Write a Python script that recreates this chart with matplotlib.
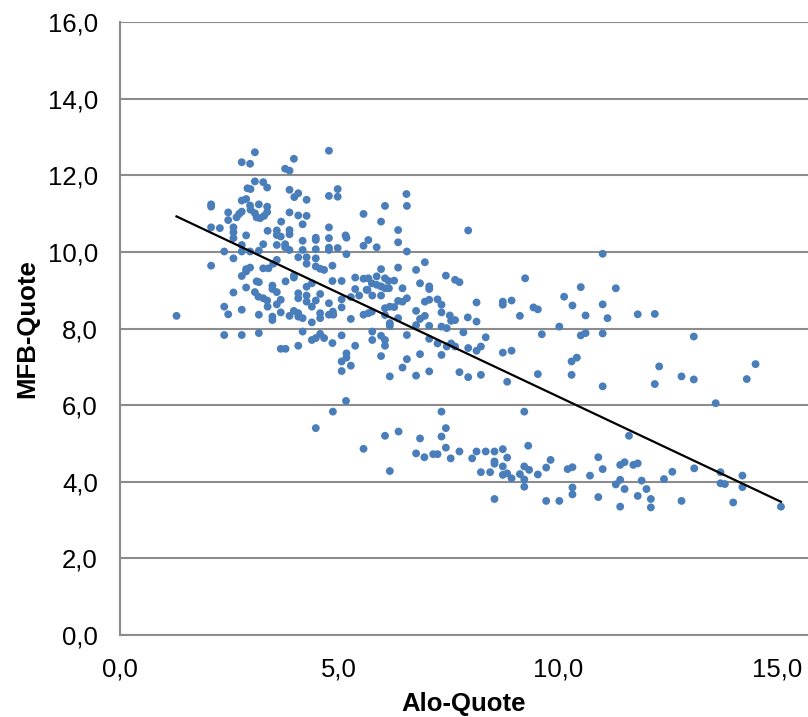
import numpy as np
import matplotlib.pyplot as plt
from matplotlib.ticker import FuncFormatter

# Alo-Quote / MFB-Quote Wertepaare
alo = [
    3.08, 2.78, 2.97, 3.97, 4.77, 3.77, 3.87, 3.08, 3.27, 2.91, 2.98, 3.36, 3.87, 4.07, 3.98,
    4.26, 4.77, 4.97, 4.97, 2.78, 2.88, 3.17, 2.08, 2.08, 2.97, 2.98, 3.36, 3.36, 2.78, 2.72,
    2.66, 2.47, 2.47, 3.08, 3.12, 3.20, 3.29, 3.87, 4.07, 4.26, 5.56, 3.68, 4.17, 2.08, 2.28,
    2.59, 2.59, 2.59, 2.88, 3.37, 3.58, 3.58, 3.67, 3.87, 3.87, 4.77, 4.47, 4.47, 4.77, 5.15,
    5.17, 4.17, 5.67, 5.56, 2.78, 2.78, 2.97, 3.17, 2.38, 3.27, 3.58, 3.77, 3.77, 3.87, 4.17,
    4.47, 4.77, 4.77, 4.97, 5.17, 2.59, 4.07, 4.26, 4.47, 4.26, 4.47, 4.57, 4.66, 3.58, 3.50,
    3.39, 2.08, 2.97, 2.88, 3.27, 4.85,
    # Block 2
    2.78, 2.88, 3.97, 3.97, 4.85, 5.06, 5.37, 5.56, 5.67, 3.12, 3.17, 3.78, 3.48, 3.48, 3.58,
    2.88, 2.59, 3.08, 3.16, 3.27, 3.36, 3.37, 3.67, 3.58, 4.07, 4.07, 4.26, 4.26, 4.26, 4.38,
    4.57, 4.47, 4.38, 4.77, 5.06, 5.06, 5.37, 5.46, 5.27, 5.63, 2.38, 2.47, 2.78, 3.17, 3.48,
    3.48, 3.67, 3.87, 3.97, 4.07, 4.07, 4.17, 4.38, 4.57, 4.57, 4.77, 4.86, 4.87, 5.27, 5.56,
    5.67, 1.29, 2.38, 2.78, 3.17, 4.17, 4.38, 4.47, 4.57, 4.66, 5.06, 4.85, 5.37, 4.07, 3.67,
    3.78, 5.17, 5.17, 5.06, 5.27, 5.06,
    # Block 3
    5.16, 4.86, 4.47, 5.56,
    # Block 4
    6.54, 6.55, 6.05, 5.96, 6.35, 6.35, 6.55, 5.86, 7.95, 6.96, 6.76, 6.35, 5.96,
    # Block 5
    5.86, 6.05, 6.13, 6.26, 5.75, 5.86, 5.96, 6.05, 6.14, 5.65, 5.76, 5.96, 6.45, 6.85, 7.06,
    7.06, 7.44, 7.65, 7.75, 9.25, 10.14, 10.33, 6.35, 6.45, 6.55, 6.96, 7.06, 7.25, 7.34, 6.05,
    6.26, 6.16, 5.75, 6.05, 6.35, 6.76, 6.85, 6.96, 7.34, 7.53, 7.65, 7.56, 7.94, 8.14, 8.14,
    8.74, 8.74, 8.94, 9.13, 9.44, 9.54, 6.16, 6.16, 6.76, 7.06, 7.34, 7.46, 10.03, 5.76, 5.76,
    5.96, 6.05, 6.05, 6.55, 7.06, 7.25, 7.46, 7.56, 7.65, 7.84, 8.35, 8.24, 8.14, 7.95, 9.63,
    8.74, 8.94, 5.96, 6.85, 7.34, 6.55, 6.45, 6.16, 6.76, 7.06, 7.75, 7.95, 8.24, 8.84, 9.54,
    10.31, 10.31,
    # Block 6
    7.34, 9.23, 7.44, 7.34, 6.05, 6.36, 6.85, 6.76, 6.95, 7.15, 7.25, 7.44, 7.55, 7.75, 8.04,
    8.14, 8.35, 8.55, 8.74, 9.32, 8.84, 8.55, 8.55, 8.74, 6.16, 8.24, 8.45, 8.74, 8.84, 8.94,
    9.13, 9.23, 9.34, 9.23, 9.23, 9.54, 9.73, 9.83, 10.22, 10.33, 10.33, 10.33, 8.55, 9.73, 10.03,
    # Block 7
    11.02, 10.52, 11.32, 11.02, 10.63, 11.13, 11.82, 12.21, 10.52, 10.63, 11.02, 13.10, 10.43,
    12.31, 12.82, 13.10, 14.51, 14.31, 11.02, 12.21,
    # Block 8
    13.60, 11.62, 10.92, 11.02, 11.42, 11.52, 11.72, 11.82, 10.73, 11.42, 11.32, 11.52, 11.91,
    12.02, 12.42, 12.61, 13.11, 13.71, 13.71, 13.81, 14.21, 14.21, 10.92, 11.82, 12.12, 12.12,
    11.42, 12.82, 14.00, 15.09,
]
mfb = [
    12.60, 12.34, 12.30, 12.43, 12.64, 12.17, 12.12, 11.84, 11.82, 11.66, 11.64, 11.68, 11.62, 11.53, 11.43,
    11.36, 11.46, 11.64, 11.44, 11.34, 11.38, 11.24, 11.24, 11.18, 11.21, 11.10, 11.18, 11.04, 11.05, 10.99,
    10.90, 11.03, 10.83, 11.01, 10.90, 10.88, 10.94, 11.03, 10.95, 10.94, 10.99, 10.79, 10.72, 10.64, 10.62,
    10.64, 10.51, 10.36, 10.43, 10.55, 10.56, 10.44, 10.40, 10.57, 10.46, 10.64, 10.37, 10.31, 10.36, 10.43,
    10.37, 10.29, 10.31, 10.16, 10.18, 10.01, 10.01, 10.03, 10.01, 10.20, 10.18, 10.20, 10.12, 10.05, 10.05,
    10.07, 10.11, 10.05, 10.10, 9.94, 9.83, 9.86, 9.86, 9.83, 9.69, 9.62, 9.56, 9.53, 9.79, 9.69,
    9.57, 9.64, 9.59, 9.55, 9.57, 9.64,
    # Block 2
    9.37, 9.49, 9.33, 9.38, 9.24, 9.24, 9.33, 9.30, 9.31, 9.23, 9.21, 9.23, 9.12, 9.03, 8.95,
    9.07, 8.94, 8.95, 8.83, 8.79, 8.73, 8.57, 8.75, 8.63, 8.92, 8.79, 8.86, 8.70, 9.09, 9.18,
    8.90, 8.73, 8.57, 8.66, 8.76, 8.55, 9.03, 8.86, 8.82, 9.01, 8.57, 8.37, 8.49, 8.36, 8.31,
    8.22, 8.42, 8.33, 8.46, 8.40, 8.31, 8.27, 8.16, 8.40, 8.27, 8.36, 8.44, 8.36, 8.25, 8.36,
    8.40, 8.33, 7.83, 7.83, 7.88, 7.92, 7.70, 7.75, 7.86, 7.75, 7.82, 7.62, 7.55, 7.55, 7.47,
    7.47, 7.35, 7.24, 7.14, 7.03, 6.89,
    # Block 3
    6.11, 5.83, 5.40, 4.86,
    # Block 4
    11.51, 11.20, 11.20, 10.79, 10.57, 10.25, 10.01, 10.12, 10.56, 9.73, 9.53, 9.59, 9.55,
    # Block 5
    9.36, 9.31, 9.24, 9.25, 9.18, 9.14, 9.10, 9.05, 9.05, 9.01, 8.86, 8.86, 9.05, 9.18, 9.10,
    9.03, 9.38, 9.27, 9.21, 9.31, 8.83, 8.60, 8.72, 8.70, 8.79, 8.70, 8.75, 8.76, 8.62, 8.53,
    8.56, 8.57, 8.44, 8.35, 8.27, 8.46, 8.25, 8.33, 8.42, 8.34, 8.22, 8.20, 8.29, 8.68, 8.18,
    8.70, 8.62, 8.73, 8.33, 8.55, 8.50, 8.14, 8.07, 8.09, 8.07, 8.05, 8.01, 8.05, 7.92, 7.70,
    7.81, 7.70, 7.55, 7.83, 7.73, 7.61, 7.53, 7.61, 7.53, 7.90, 7.77, 7.53, 7.42, 7.49, 7.85,
    7.37, 7.42, 7.28, 7.33, 7.31, 7.20, 6.98, 6.75, 6.77, 6.88, 6.86, 6.73, 6.79, 6.61, 6.81,
    7.14, 6.79,
    # Block 6
    5.83, 5.83, 5.40, 5.18, 5.20, 5.31, 5.13, 4.74, 4.64, 4.72, 4.72, 4.89, 4.61, 4.79, 4.61,
    4.79, 4.79, 4.79, 4.85, 4.94, 4.63, 4.53, 4.47, 4.40, 4.28, 4.25, 4.25, 4.18, 4.22, 4.09,
    4.20, 4.40, 4.31, 4.06, 3.87, 4.19, 4.37, 4.57, 4.33, 4.38, 3.85, 3.67, 3.55, 3.50, 3.50,
    # Block 7
    9.95, 9.08, 9.05, 8.63, 8.34, 8.27, 8.37, 8.38, 7.82, 7.88, 7.87, 7.79, 7.24,
    7.01, 6.75, 6.67, 7.07, 6.68, 6.49, 6.55,
    # Block 8
    6.05, 5.20, 4.64, 4.33, 4.44, 4.51, 4.44, 4.48, 4.16, 4.05, 3.93, 3.81, 4.03,
    3.81, 4.07, 4.26, 4.35, 4.25, 3.96, 3.94, 4.16, 3.86, 3.60, 3.63, 3.55, 3.33,
    3.35, 3.50, 3.46, 3.35,
]

x = np.array(alo)
y = np.array(mfb)

# Lineare Trendlinie wie in Excel
m, b = np.polyfit(x, y, 1)
xt = np.array([x.min(), x.max()])

plt.rcParams['font.family'] = ['Liberation Sans', 'DejaVu Sans']

fig = plt.figure(figsize=(8.08, 7.17), dpi=100)
ax = fig.add_axes([120/808, 82/717, 688/808, 613/717])

ax.scatter(x, y, s=32, c='#4a7ebb', edgecolors='none', zorder=3)
ax.plot(xt, m*xt + b, c='black', lw=1.6, zorder=4)

ax.set_xlim(0, 688/43.8)
ax.set_ylim(0, 16)
ax.set_xticks([0, 5, 10, 15])
ax.set_yticks(np.arange(0, 17, 2))
fmt = FuncFormatter(lambda v, p: f"{v:.1f}".replace('.', ','))
ax.xaxis.set_major_formatter(fmt)
ax.yaxis.set_major_formatter(fmt)
ax.tick_params(length=0, labelsize=18.5)
ax.tick_params(axis='y', pad=16)
ax.tick_params(axis='x', pad=16)
ax.yaxis.grid(True, color='#8c8c8c', lw=1.5)
ax.set_axisbelow(True)
for s in ['top', 'right']:
    ax.spines[s].set_visible(False)
for s in ['left', 'bottom']:
    ax.spines[s].set_color('#8c8c8c')
    ax.spines[s].set_linewidth(1.5)

ax.set_xlabel('Alo-Quote', fontsize=18.5, fontweight='bold', labelpad=8)
ax.set_ylabel('MFB-Quote', fontsize=18.5, fontweight='bold', labelpad=6)

plt.savefig("out.png", dpi=100)
